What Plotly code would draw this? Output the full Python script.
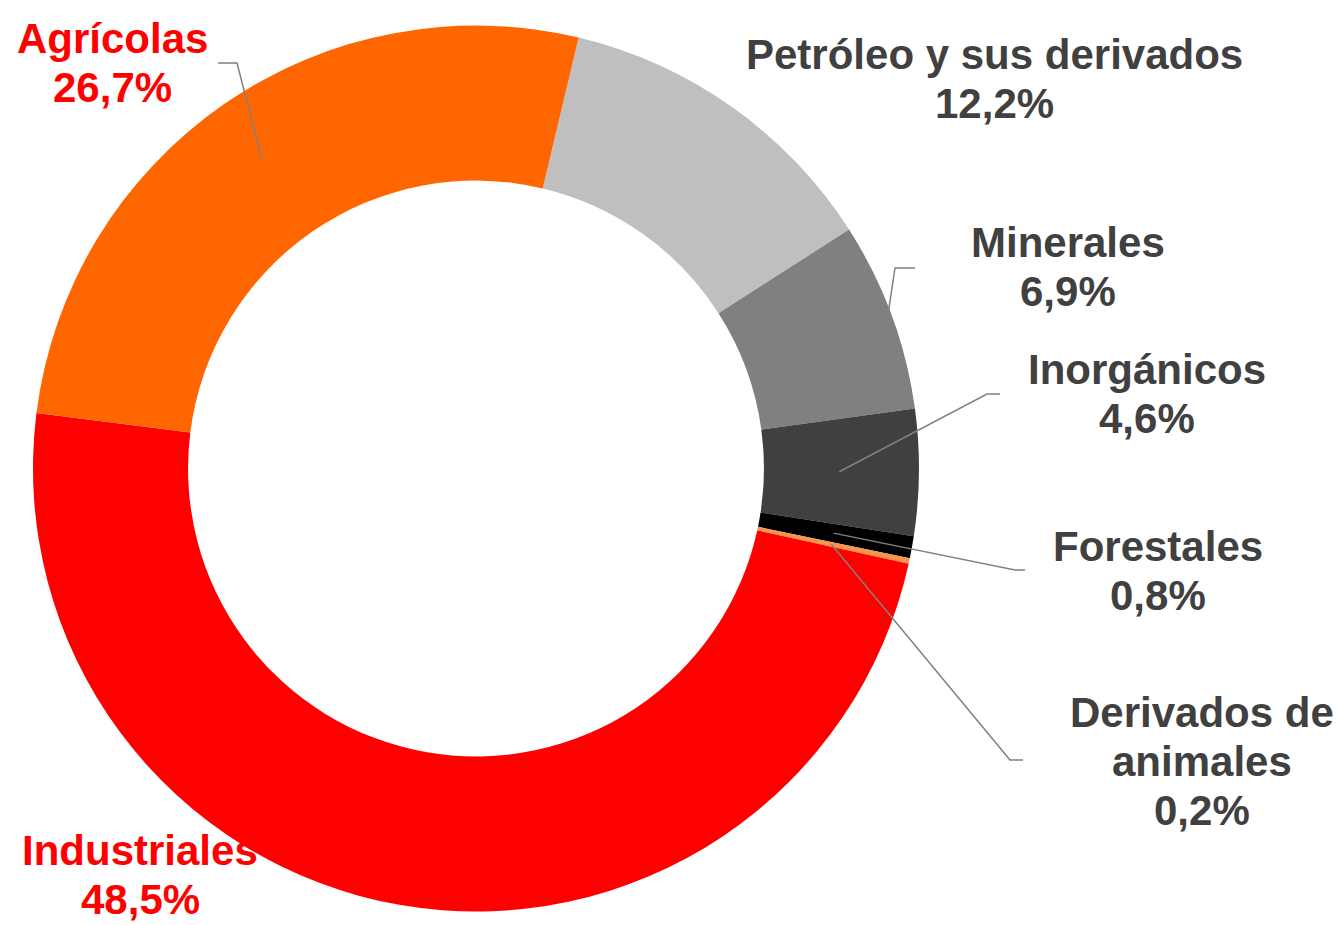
import math
import plotly.graph_objects as go

categories = ["Petróleo y sus derivados", "Minerales", "Inorgánicos", "Forestales",
              "Derivados de animales", "Industriales", "Agrícolas"]
values = [12.2, 6.9, 4.6, 0.8, 0.2, 48.5, 26.7]
pct_labels = ["12,2%", "6,9%", "4,6%", "0,8%", "0,2%", "48,5%", "26,7%"]
label_lines = [["Petróleo y sus derivados"], ["Minerales"], ["Inorgánicos"], ["Forestales"],
               ["Derivados de", "animales"], ["Industriales"], ["Agrícolas"]]
colors = ["#BFBFBF", "#808080", "#404040", "#000000", "#F79646", "#FF0000", "#FF6600"]
text_colors = ["#404040", "#404040", "#404040", "#404040", "#404040", "#FF0000", "#FF0000"]

W, H = 1338, 925
CX, CY, R = 476, 468.5, 443
HOLE = 0.65
ROT = 13.4
FONT_SIZE = 42
LINE_GAP = 49

# label block centres (pixels)
label_pos = [(994, 79), (1068, 267), (1147, 394), (1158, 571), (1202, 761), (140, 875), (112, 63)]
# leader: (radius fraction of start, elbow px, end px) or None
leaders = [None,
           (0.99, (895, 268), (915, 268)),
           (0.82, (987, 394), (1000, 394)),
           (0.82, (1015, 570), (1025, 570)),
           (0.82, (1010, 760), (1023, 760)),
           None,
           (0.85, (237, 63), (218, 63))]

fig = go.Figure()
fig.add_trace(go.Pie(
    labels=categories, values=values, sort=False, direction="clockwise",
    rotation=ROT, hole=HOLE, textinfo="none", hoverinfo="label+percent",
    marker=dict(colors=colors, line=dict(width=0)),
    domain=dict(x=[(CX - R) / W, (CX + R) / W], y=[1 - (CY + R) / H, 1 - (CY - R) / H]),
    showlegend=False,
))

def px(x, y):
    return x / W, 1 - y / H

total = sum(values)
cum = 0.0
shapes = []
annotations = []
for i, v in enumerate(values):
    mid = ROT + (cum + v / 2) / total * 360.0
    cum += v
    lines = list(label_lines[i]) + [pct_labels[i]]
    n = len(lines)
    cx, cy = label_pos[i]
    for k, t in enumerate(lines):
        ly = cy + (k - (n - 1) / 2) * LINE_GAP
        ax, ay = px(cx, ly)
        annotations.append(dict(
            x=ax, y=ay, xref="paper", yref="paper", showarrow=False,
            text=f"<b>{t}</b>", align="center", xanchor="center", yanchor="middle",
            font=dict(family="Liberation Sans, Arial", size=FONT_SIZE, color=text_colors[i]),
        ))
    if leaders[i] is not None:
        rf, elbow, end = leaders[i]
        a = math.radians(mid)
        sx = CX + R * rf * math.sin(a)
        sy = CY - R * rf * math.cos(a)
        p0 = px(sx, sy); p1 = px(*elbow); p2 = px(*end)
        shapes.append(dict(
            type="path", xref="paper", yref="paper",
            path=f"M {p0[0]},{p0[1]} L {p1[0]},{p1[1]} L {p2[0]},{p2[1]}",
            line=dict(color="#808080", width=1.5),
        ))

fig.update_layout(
    width=W, height=H, margin=dict(l=0, r=0, t=0, b=0),
    paper_bgcolor="white", plot_bgcolor="white",
    shapes=shapes, annotations=annotations,
)
fig.write_html("out.html", config={"displayModeBar": False},
               post_script="document.body.style.margin='0';document.body.style.overflow='hidden';")
